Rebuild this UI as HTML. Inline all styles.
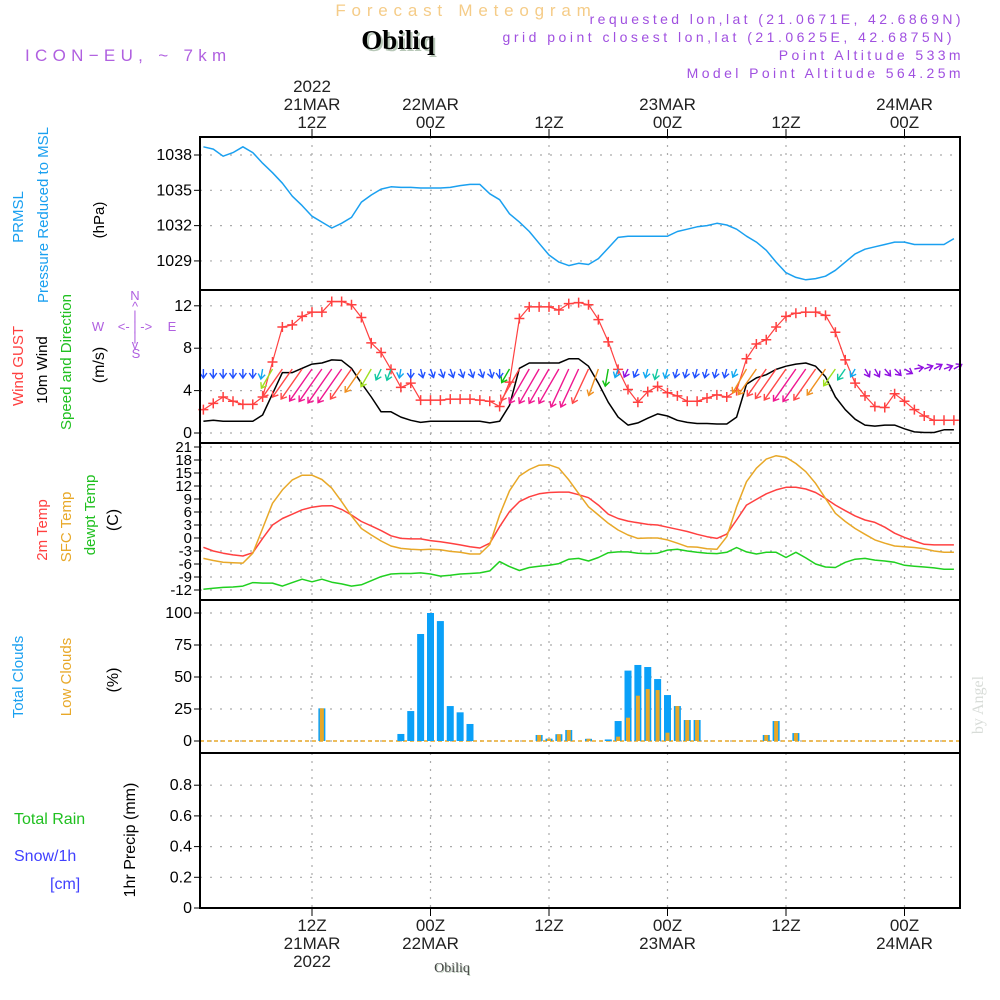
<!DOCTYPE html>
<html><head><meta charset="utf-8"><style>
html,body{margin:0;padding:0;background:#fff;width:1000px;height:1000px;overflow:hidden}
svg{display:block;font-family:"Liberation Sans",sans-serif}
</style></head><body>
<svg id="chart" width="1000" height="1000" viewBox="0 0 1000 1000" xmlns="http://www.w3.org/2000/svg">
<g>
<text x="466" y="16" text-anchor="middle" font-size="17" fill="#f5cc88" letter-spacing="5.8">Forecast Meteogram</text>
<text x="400" y="51" text-anchor="middle" font-family="Liberation Serif,serif" font-weight="bold" font-size="27" fill="#b8c8b8">Obiliq</text>
<text x="398" y="49" text-anchor="middle" font-family="Liberation Serif,serif" font-weight="bold" font-size="27" fill="#000">Obiliq</text>
<text x="25" y="61" font-size="17" fill="#b060e0" letter-spacing="5.3">ICON−EU, ~ 7km</text>
<g font-size="14" fill="#a050e0" text-anchor="end">
<text x="964" y="24" letter-spacing="3.4">requested lon,lat (21.0671E, 42.6869N)</text>
<text x="955" y="42" letter-spacing="3.5">grid point closest lon,lat (21.0625E, 42.6875N)</text>
<text x="964" y="60" letter-spacing="3.4">Point Altitude 533m</text>
<text x="964" y="78" letter-spacing="3.4">Model Point Altitude 564.25m</text>
</g>
</g>
<g id="labels" font-size="15"></g>
<g id="plot"></g>
<text transform="translate(983,705) rotate(-90)" text-anchor="middle" font-family="Liberation Serif,serif" font-size="16" fill="#d8dcd8">by Angel</text>
<text x="453" y="973" text-anchor="middle" font-family="Liberation Serif,serif" font-size="14" fill="#c0d0c0">Obiliq</text>
<text x="452" y="972" text-anchor="middle" font-family="Liberation Serif,serif" font-size="14" fill="#444">Obiliq</text>
</svg>
<script>
// ---- data (hour 1..77 since 00Z 21MAR) ----
const hours = Array.from({length:77},(_,i)=>i+1);
const pressure = [1038.7,1038.5,1037.9,1038.2,1038.7,1038.2,1037.3,1036.5,1035.6,1034.5,1033.7,1032.8,1032.3,1031.8,1032.2,1032.7,1034.0,1034.6,1035.1,1035.3,1035.25,1035.25,1035.2,1035.2,1035.2,1035.25,1035.4,1035.5,1035.5,1034.7,1034.2,1033.0,1032.3,1031.5,1030.5,1029.5,1028.9,1028.6,1028.8,1028.7,1029.2,1030.1,1031.0,1031.1,1031.1,1031.1,1031.1,1031.1,1031.5,1031.7,1031.9,1032.0,1032.2,1032.05,1031.7,1031.1,1030.6,1029.9,1028.9,1028.0,1027.6,1027.4,1027.5,1027.7,1028.2,1028.9,1029.6,1030.0,1030.2,1030.4,1030.6,1030.6,1030.4,1030.4,1030.4,1030.4,1030.9];
const gust = [2.2,2.8,3.4,3.0,2.7,2.7,3.4,6.7,10.0,10.2,11.0,11.4,11.4,12.4,12.4,12.1,10.9,8.5,7.6,6.0,4.3,4.7,3.1,3.1,3.1,3.2,3.2,3.2,3.1,3.0,2.5,4.8,10.8,11.9,11.9,11.9,11.6,12.2,12.3,12.1,10.7,8.6,6.0,4.1,2.9,3.9,4.4,3.8,3.5,3.0,3.0,3.3,3.6,3.4,4.0,7.0,8.4,8.8,10.0,11.0,11.3,11.4,11.4,11.1,9.5,6.9,4.7,3.5,2.5,2.4,3.7,3.0,2.2,1.6,1.2,1.2,1.2];
const wind = [1.1,1.2,1.1,1.1,1.1,1.1,1.7,3.7,5.7,5.7,6.1,6.5,6.6,6.9,6.85,6.1,4.7,3.4,2.0,2.0,1.5,1.2,1.0,1.1,1.1,1.1,1.1,1.1,1.1,0.95,1.1,2.6,6.1,6.6,6.6,6.6,6.6,7.0,7.0,6.3,4.7,2.9,1.5,0.75,0.95,1.4,1.8,1.6,1.2,1.0,0.9,0.9,0.85,0.85,1.5,4.6,5.2,5.5,6.0,6.3,6.5,6.6,6.3,5.3,3.4,2.2,1.3,0.75,0.65,0.75,0.75,0.4,0.1,0.05,0.05,0.3,0.3];
const windDir = [0,0,0,0,0,0,10,30,35,35,35,35,35,35,35,35,35,30,25,20,10,0,345,340,340,340,340,340,340,345,0,30,30,30,30,30,30,25,25,25,20,10,20,25,25,15,15,15,15,15,15,15,15,15,25,30,35,35,35,35,35,35,35,35,35,35,30,330,330,320,315,300,260,250,240,250,240];
const t2m = [-2.15,-3.0,-3.5,-3.9,-4.15,-3.4,-0.1,3.0,4.5,5.5,6.5,7.1,7.4,7.45,6.6,5.3,3.8,2.8,1.7,0.5,-0.1,-0.2,-0.2,-0.6,-0.85,-1.2,-1.6,-2.0,-2.3,-1.2,2.6,6.1,8.4,9.5,10.2,10.5,10.6,10.6,10.0,9.3,7.6,5.5,4.5,3.9,3.5,3.15,3.0,2.5,2.0,1.5,0.85,0.3,-0.1,0.9,4.15,7.6,8.9,10.2,11.1,11.7,11.7,11.3,10.5,9.15,7.6,6.3,5.1,4.15,3.6,2.5,1.1,0.15,-0.7,-1.45,-1.6,-1.6,-1.6];
const tsfc = [-4.7,-5.2,-5.6,-5.7,-5.8,-3.5,2.2,8.0,11.1,13.4,14.5,14.5,13.5,11.5,8.4,5.1,2.2,0.7,-0.7,-1.85,-2.4,-2.6,-2.7,-2.6,-2.7,-3.1,-3.3,-3.7,-3.7,-1.5,5.3,10.9,14.3,15.8,16.8,16.9,16.1,13.4,10.3,7.2,5.3,3.4,1.85,0.7,-0.1,0,0,-0.45,-1.2,-2.0,-2.1,-2.5,-2.6,0.3,7.2,13.0,16.1,18.2,19.0,18.6,17.2,15.3,12.6,9.15,5.7,3.8,2.2,0.85,-0.45,-1.2,-1.85,-2.0,-2.2,-2.5,-3.0,-3.3,-3.3];
const dewpt = [-11.85,-11.6,-11.4,-11.3,-11.1,-10.3,-10.4,-10.4,-11.1,-10.3,-9.5,-10.1,-9.5,-10.2,-10.6,-11.1,-10.8,-9.85,-8.9,-8.3,-8.2,-8.2,-8.05,-8.3,-8.8,-8.6,-8.3,-8.2,-8.05,-7.6,-5.45,-6.6,-7.5,-6.8,-6.5,-6.3,-5.9,-4.9,-4.7,-5.3,-4.5,-3.4,-3.2,-3.2,-3.5,-3.6,-3.5,-2.8,-2.6,-3.0,-3.3,-3.5,-3.6,-3.3,-2.2,-3.2,-3.7,-3.3,-3.3,-4.5,-3.3,-4.6,-6.0,-6.7,-6.8,-5.6,-4.9,-4.7,-5.1,-5.3,-5.6,-6.3,-6.5,-6.7,-6.9,-7.2,-7.2];
const totalClouds = [0,0,0,0,0,0,0,0,0,0,0,0,25.5,0,0,0,0,0,0,0,5.5,23.4,83.6,100,93.7,27.3,22.4,13.3,0,0,0,0,0,0,4.7,1.8,5.3,8.6,0,1.7,0,1.2,15.6,55,59.4,57.8,48.4,35.9,27.3,16.4,16.4,0,0,0,0,0,0,4.7,15.6,0,6.2,0,0,0,0,0,0,0,0,0,0,0,0,0,0,0,0];
const lowClouds = [0,0,0,0,0,0,0,0,0,0,0,0,25.5,0,0,0,0,0,0,0,0,0,0,0,0,0,0,0,0,0,0,0,0,0,4.7,1.8,5.3,8.6,0,1.7,0,0,3.4,18.2,35.4,40.6,39.8,6.5,27.3,16.4,16.4,0,0,0,0,0,0,4.7,15.6,0,6.2,0,0,0,0,0,0,0,0,0,0,0,0,0,0,0];
const precip = hours.map(()=>0);
const pTicks = [1029,1032,1035,1038];
const wTicks = [0,4,8,12];
const tTicks = [-12,-9,-6,-3,0,3,6,9,12,15,18,21];
const cTicks = [0,25,50,75,100];
const rTicks = [0,0.2,0.4,0.6,0.8];
const topLabels = [[12,"2022","21MAR","12Z"],[24,"","22MAR","00Z"],[36,"","","12Z"],[48,"","23MAR","00Z"],[60,"","","12Z"],[72,"","24MAR","00Z"]];
const botLabels = [[12,"12Z","21MAR","2022"],[24,"00Z","22MAR",""],[36,"12Z","",""],[48,"00Z","23MAR",""],[60,"12Z","",""],[72,"00Z","24MAR",""]];

// ---- scales ----
const X0=200,X1=960;
const x = h => 193.5 + h*9.875;
const yP = p => 155 + (1038-p)*11.77;
const yW = v => 433 - v*10.6;
const yT = t => 538 - t*4.333;
const yC = c => 741 - c*1.28;
const yR = r => 908 - r*153.5;
const panels=[[137,290],[290,443],[443,600],[600,753],[753,908]];

const NS="http://www.w3.org/2000/svg";
const plot=document.getElementById('plot');
const labels=document.getElementById('labels');
function mk(tag,attrs,parent){const e=document.createElementNS(NS,tag);for(const k in attrs)e.setAttribute(k,attrs[k]);(parent||plot).appendChild(e);return e;}

function yAxis(ticks,fy,name,fmt,fs){
  ticks.forEach(v=>{
    const y=fy(v);
    const g=mk('line',{x1:X0,x2:X1,y1:y,y2:y,stroke:'#aaa','stroke-dasharray':'2,8','stroke-width':1.2});
    
    
    const tk=mk('line',{x1:X0-6,x2:X0,y1:y,y2:y,stroke:'#000','stroke-width':1});
    
    
    const t=mk('text',{x:X0-8,y:y+5,'text-anchor':'end','font-size':fs||16,fill:'#000'});
    t.textContent=fmt?fmt(v):String(v);
    
    
  });
}
yAxis(pTicks,yP,'pressure-axis');
yAxis(wTicks,yW,'wind-axis');
yAxis(tTicks,yT,'temp-axis',null,15);
yAxis(cTicks,yC,'cloud-axis');
yAxis(rTicks,yR,'precip-axis',v=>v===0?'0':v.toFixed(1));
[12,24,36,48,60,72].forEach(h=>{
  const l=mk('line',{x1:x(h),x2:x(h),y1:137,y2:908,stroke:'#aaa','stroke-dasharray':'2,6','stroke-width':1.2});
  
  
  const a=mk('line',{x1:x(h),x2:x(h),y1:129,y2:137,stroke:'#000'});
  
  
  const b=mk('line',{x1:x(h),x2:x(h),y1:908,y2:916,stroke:'#000'});
  
  
});
topLabels.forEach(([h,a,b,c])=>{[a,b,c].forEach((s,i)=>{if(!s)return;
  const t=mk('text',{x:x(h),y:92+i*18,'text-anchor':'middle','font-size':17,fill:'#222'});t.textContent=s;
  
  });});
botLabels.forEach(([h,a,b,c])=>{[a,b,c].forEach((s,i)=>{if(!s)return;
  const t=mk('text',{x:x(h),y:931+i*18,'text-anchor':'middle','font-size':17,fill:'#222'});t.textContent=s;
  
  });});

function line(vals,fy,color,name,w){
  const d=vals.map((v,i)=>(i?'L':'M')+x(hours[i]).toFixed(1)+','+fy(v).toFixed(1)).join('');
  const p=mk('path',{d:d,fill:'none',stroke:color,'stroke-width':w||1.5,'stroke-linejoin':'round'});
  
  
}
line(pressure,yP,'#1aa0f0','pressure-line');
line(wind,yW,'#000','wind-speed-line');
line(gust,yW,'#ff4040','wind-gust-line',1.2);
gust.forEach((v,i)=>{const cx=x(hours[i]),cy=yW(v);
  const m=mk('path',{d:`M${cx-5},${cy}H${cx+5}M${cx},${cy-5}V${cy+5}`,stroke:'#ff4040','stroke-width':1.5});
  
  });
function wColor(s){if(s<0.8)return '#9010e0';if(s<1.3)return '#2050ff';if(s<1.8)return '#10a8f0';if(s<2.3)return '#10c8a0';if(s<3)return '#10c010';if(s<4)return '#a0e020';if(s<4.5)return '#e8d010';if(s<5.5)return '#f09020';if(s<6.5)return '#ff4848';return '#f01890';}
wind.forEach((s,i)=>{
  const a=windDir[i]*Math.PI/180, L=Math.max(9,s*6);
  const x0=x(hours[i]), y0=369;
  const dx=-Math.sin(a), dy=Math.cos(a);
  const x1=x0+dx*L, y1=y0+dy*L;
  const hx=-dx*5, hy=-dy*5, px=-dy*3.5, py=dx*3.5;
  const ar=mk('path',{d:`M${x0},${y0}L${x1},${y1}M${x1+hx+px},${y1+hy+py}L${x1},${y1}L${x1+hx-px},${y1+hy-py}`,stroke:wColor(s),'stroke-width':1.4,fill:'none'});
  
  
});
line(t2m,yT,'#ff4040','temp-2m-line');
line(tsfc,yT,'#e8a828','temp-sfc-line');
line(dewpt,yT,'#20d020','dewpoint-line');
const base=mk('line',{x1:X0,x2:X1,y1:yC(0),y2:yC(0),stroke:'#e8a828','stroke-dasharray':'4,3','stroke-width':1.5});


totalClouds.forEach((c,i)=>{if(c<=0)return;const cx=x(hours[i]);
  const r=mk('rect',{x:cx-3.5,y:yC(c),width:7,height:yC(0)-yC(c),fill:'#0aa0f8'});
  
  });
lowClouds.forEach((c,i)=>{if(c<=0)return;const cx=x(hours[i]);
  const r=mk('rect',{x:cx-2,y:yC(c),width:4,height:yC(0)-yC(c),fill:'#e8a828'});
  
  });
line(precip,yR,'#000','precip-line',1.5);
mk('line',{x1:X0,x2:X1,y1:908,y2:908,stroke:'#000','stroke-dasharray':'6,2','stroke-width':2});
panels.forEach(([a,b])=>{const r=mk('rect',{x:X0,y:a,width:X1-X0,height:b-a,fill:'none',stroke:'#000','stroke-width':2});
  
  });

function vt(txt,cx,cy,color,name,fs){const t=mk('text',{transform:`translate(${cx},${cy}) rotate(-90)`,'text-anchor':'middle',fill:color,'font-size':fs||15},labels);t.textContent=txt;
  
  }
function ht(txt,px,py,color,name,fs){const t=mk('text',{x:px,y:py,fill:color,'font-size':fs||15},labels);t.textContent=txt;
  
  }
vt('PRMSL',23,217,'#1aa0f0','prmsl-title');
vt('Pressure Reduced to MSL',48,215,'#1aa0f0','pressure-title');
vt('(hPa)',104,220,'#000','pressure-unit');
vt('Wind GUST',23,366,'#ff4040','gust-title');
vt('10m Wind',47,370,'#000','wind-title');
vt('Speed and Direction',71,362,'#20c020','wind-direction-title');
vt('(m/s)',104,365,'#000','wind-unit',16);
vt('2m Temp',47,530,'#ff4040','temp-2m-title');
vt('SFC Temp',71,527,'#e8a828','temp-sfc-title');
vt('dewpt Temp',95,515,'#20c020','dewpoint-title');
vt('(C)',118,520,'#000','temp-unit',16);
vt('Total Clouds',23,677,'#1aa0f0','total-cloud-title');
vt('Low Clouds',71,677,'#e8a828','low-cloud-title');
vt('(%)',118,680,'#000','cloud-unit',16);
vt('1hr Precip (mm)',135,840,'#000','precip-title',16);
ht('Total  Rain',14,824,'#20c020','rain-legend',16);
ht('Snow/1h',14,861,'#4040ff','snow-legend',16);
ht('[cm]',50,889,'#4040ff','snow-unit',16);
const cp=mk('g',{fill:'#b060e0','font-size':13,'text-anchor':'middle'},labels);


[['N',135,300],['^',135,311],['|',135,320],['<- | ->',135,331],['|',135,341],['v',135,349],['S',136,358],['W',98,331],['E',172,331]].forEach(([s,a,b])=>{const t=mk('text',{x:a,y:b},cp);t.textContent=s;});
</script>
</body></html>
